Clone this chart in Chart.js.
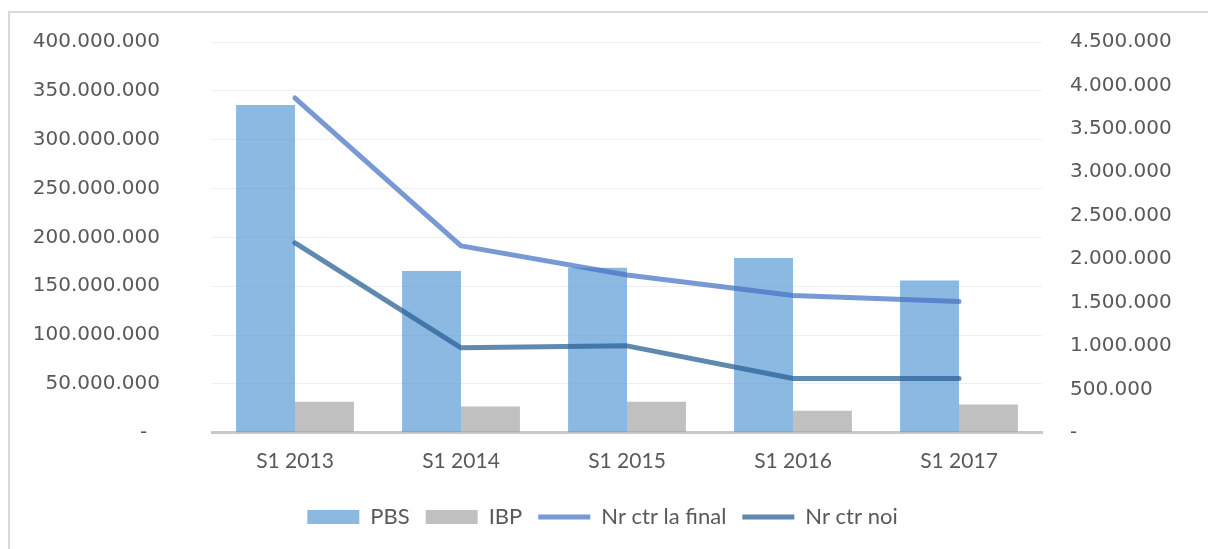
<!DOCTYPE html>
<html>
<head>
<meta charset="utf-8">
<script src="https://cdn.jsdelivr.net/npm/chart.js@4.4.1/dist/chart.umd.min.js"></script>
<style>
  html, body { margin: 0; padding: 0; background: #fff; }
  #frame { position: absolute; left: 8px; top: 11px; width: 1300px; height: 700px;
           border-left: 2px solid #d9d9d9; border-top: 2px solid #d9d9d9; }
  #wrap { position: absolute; left: 0; top: 0; width: 1208px; height: 549px; }
</style>
</head>
<body>
<div id="frame"></div>
<div id="wrap"><canvas id="pbsChart"></canvas></div>
<script>
var labels = ["S1 2013", "S1 2014", "S1 2015", "S1 2016", "S1 2017"];
var pbs = [335500000, 165700000, 169000000, 179000000, 155800000];
var ibp = [31700000, 26900000, 31700000, 22500000, 29000000];
var nrCtrFinal = [3855000, 2152000, 1818000, 1580000, 1511000];
var nrCtrNoi = [2187000, 978000, 1001000, 625000, 625000];

function fmt(v, left) {
    if (v === 0) return left ? "-  " : "-";
    return String(v).replace(/\B(?=(\d{3})+(?!\d))/g, ".");
}

// fix axis width, keep label padding out of the top/bottom offsets
function fitAxis(w) {
    return function (s) {
        s.width = w;
        s.paddingTop = 12;
        s.paddingBottom = 12;
    };
}

document.addEventListener("DOMContentLoaded", function () {
    var ctx = document.getElementById("pbsChart").getContext("2d");
    new Chart(ctx, {
        type: "bar",
        data: {
            labels: labels,
            datasets: [{
                label: "PBS",
                data: pbs,
                backgroundColor: "rgba(91, 155, 213, 0.7)",
                borderWidth: 0,
                pointStyle: "rect",
                yAxisID: "y",
                order: 1
            }, {
                label: "IBP",
                data: ibp,
                backgroundColor: "rgba(165, 165, 165, 0.7)",
                borderWidth: 0,
                pointStyle: "rect",
                yAxisID: "y",
                order: 1
            }, {
                type: "line",
                label: "Nr ctr la final",
                data: nrCtrFinal,
                borderColor: "rgba(68, 114, 196, 0.72)",
                backgroundColor: "rgba(68, 114, 196, 0.72)",
                borderWidth: 5,
                borderCapStyle: "round",
                borderJoinStyle: "round",
                pointRadius: 0,
                pointStyle: "line",
                tension: 0,
                yAxisID: "y1",
                order: 0
            }, {
                type: "line",
                label: "Nr ctr noi",
                data: nrCtrNoi,
                borderColor: "rgba(43, 98, 150, 0.75)",
                backgroundColor: "rgba(43, 98, 150, 0.75)",
                borderWidth: 5,
                borderCapStyle: "round",
                borderJoinStyle: "round",
                pointRadius: 0,
                pointStyle: "line",
                tension: 0,
                yAxisID: "y1",
                order: 0
            }]
        },
        options: {
            responsive: true,
            maintainAspectRatio: false,
            animation: false,
            layout: { padding: { left: 33, right: 36, top: 42, bottom: 11 } },
            datasets: { bar: { categoryPercentage: 0.71, barPercentage: 1 } },
            plugins: {
                tooltip: { enabled: false },
                legend: {
                    position: "bottom",
                    labels: {
                        usePointStyle: true,
                        pointStyleWidth: 52,
                        boxHeight: 14,
                        padding: 16,
                        color: "#595959",
                        font: { family: "Lato", size: 22 },
                        sort: function (a, b) { return a.datasetIndex - b.datasetIndex; }
                    }
                }
            },
            scales: {
                x: {
                    grid: { display: false, drawTicks: false },
                    border: { display: true, color: "#c9c9c9", width: 3 },
                    ticks: { color: "#595959", padding: 16, font: { family: "Lato", size: 21 } }
                },
                y: {
                    position: "left",
                    min: 0, max: 400000000,
                    afterFit: fitAxis(179),
                    grid: { color: "#efefef", lineWidth: 1, drawTicks: false },
                    border: { display: false },
                    ticks: {
                        stepSize: 50000000, padding: 52, color: "#595959",
                        font: { family: "DejaVu Sans", size: 20 },
                        callback: function (v) { return fmt(v, true); }
                    }
                },
                y1: {
                    position: "right",
                    min: 0, max: 4500000,
                    afterFit: fitAxis(130),
                    grid: { display: false, drawTicks: false },
                    border: { display: false },
                    ticks: {
                        stepSize: 500000, padding: 28, color: "#595959",
                        font: { family: "DejaVu Sans", size: 20 },
                        callback: function (v) { return fmt(v, false); }
                    }
                }
            }
        }
    });
});
</script>
</body>
</html>
